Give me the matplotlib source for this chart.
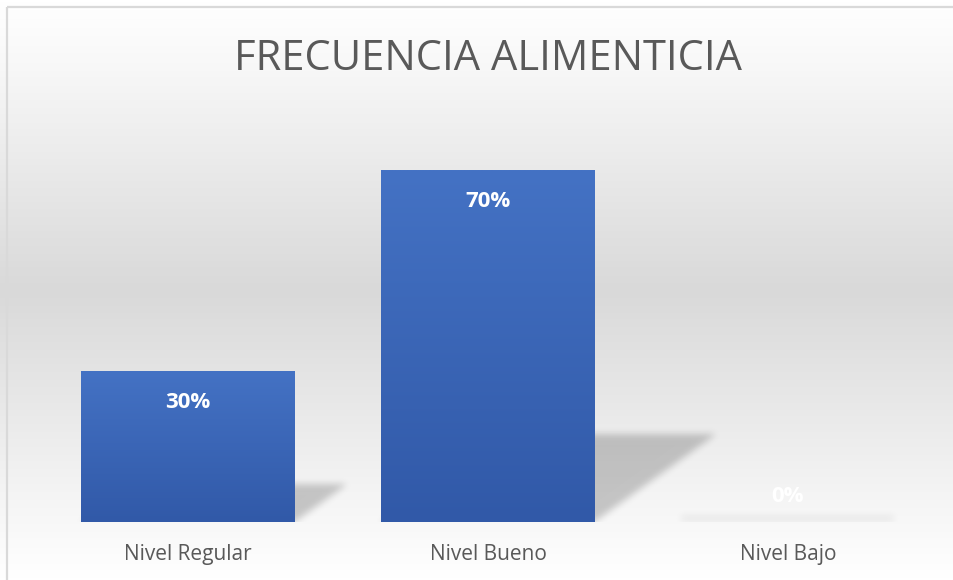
import numpy as np
import matplotlib
matplotlib.use("Agg")
import matplotlib.pyplot as plt
from matplotlib.colors import LinearSegmentedColormap

categories = ["Nivel Regular", "Nivel Bueno", "Nivel Bajo"]
values = [0.30, 0.70, 0.00]
labels = ["30%", "70%", "0%"]
title = "FRECUENCIA ALIMENTICIA"

W, H, DPI = 954, 580, 100
fig = plt.figure(figsize=(W / DPI, H / DPI), dpi=DPI)

# background gradient
bg = fig.add_axes([0, 0, 1, 1], zorder=-10)
bg.set_axis_off()
yy = np.linspace(0, 1, 400)[:, None]
bgcmap = LinearSegmentedColormap.from_list(
    "bg", [(0, "#ffffff"), (0.12, "#f7f7f7"), (0.5, "#d9d9d9"), (0.85, "#f4f4f4"), (1, "#ffffff")])
bg.imshow(np.repeat(yy, 2, axis=1), aspect="auto", cmap=bgcmap, extent=[0, 1, 0, 1],
          origin="upper", vmin=0, vmax=1)
bg.set_xlim(0, 1)
bg.set_ylim(0, 1)
# border (top and left visible)
bg.plot([7 / W, 7 / W], [0, 1 - 7 / H], color="#d9d9d9", lw=1.6, solid_capstyle="butt")
bg.plot([7 / W, 1], [1 - 7 / H, 1 - 7 / H], color="#d9d9d9", lw=1.6, solid_capstyle="butt")

x0, x1 = 38, 938
yb, yt = 522, 120
ax = fig.add_axes([x0 / W, (H - yb) / H, (x1 - x0) / W, (yb - yt) / H])
ax.patch.set_alpha(0)
ymax = 0.8
ax.set_xlim(-0.5, 2.5)
ax.set_ylim(0, ymax)
width = 0.713
xs = np.arange(len(categories))

# shadows (blurred skewed parallelograms)
nx, ny = x1 - x0, yb - yt
gx = np.linspace(-0.5, 2.5, nx)
gy = np.linspace(0, ymax, ny)
GX, GY = np.meshgrid(gx, gy)
mask = np.zeros_like(GX)
for xc, v in zip(xs, values):
    top = max(0.25 * v, 0.012)
    dx = 0.58 * v
    t = np.clip(GY / top, 0, 1)
    inside = (GY <= top) & (GX >= xc - width / 2 + t * dx) & (GX <= xc + width / 2 + t * dx)
    mask = np.maximum(mask, inside.astype(float) * (1.0 if v > 0 else 0.3))

def blur(a, s):
    r = int(3 * s)
    k = np.exp(-0.5 * (np.arange(-r, r + 1) / s) ** 2)
    k /= k.sum()
    a = np.apply_along_axis(lambda m: np.convolve(m, k, mode="same"), 0, a)
    a = np.apply_along_axis(lambda m: np.convolve(m, k, mode="same"), 1, a)
    return a

mask = blur(mask, 3.5)
rgba = np.zeros((ny, nx, 4))
rgba[..., 3] = mask * 0.2
ax.imshow(rgba, extent=[-0.5, 2.5, 0, ymax], origin="lower", aspect="auto", zorder=1,
          interpolation="bilinear")

# bars with vertical gradient
barcmap = LinearSegmentedColormap.from_list("bar", ["#3159a8", "#4472c4"])
bars = ax.bar(xs, values, width=width, color="none", zorder=2)
grad = np.linspace(0, 1, 256)[:, None]
for b, v in zip(bars, values):
    if v <= 0:
        continue
    im = ax.imshow(grad, extent=[b.get_x(), b.get_x() + b.get_width(), 0, v],
                   origin="lower", aspect="auto", cmap=barcmap, zorder=3, vmin=0, vmax=1)
    im.set_clip_path(b)

ax.set_xlim(-0.5, 2.5)
ax.set_ylim(0, ymax)

for xc, v, lab in zip(xs, values, labels):
    off = -22.3 if v > 0 else 18.7
    ax.annotate(lab, (xc, v), xytext=(0, off), textcoords="offset points",
                ha="center", va="center", color="white", fontsize=16, fontweight="bold",
                family=["Open Sans", "DejaVu Sans"], zorder=5)

ax.set_xticks(xs)
ax.set_xticklabels(categories, fontsize=15, color="#595959",
                   family=["Open Sans", "DejaVu Sans"])
ax.tick_params(axis="x", length=0, pad=16)
ax.set_yticks([])
for s in ax.spines.values():
    s.set_visible(False)

fig.text(488 / W, 1 - 59 / H, title, ha="center", va="center", fontsize=30,
         color="#595959", family=["Open Sans", "DejaVu Sans"])

fig.savefig("out.png", dpi=DPI)
